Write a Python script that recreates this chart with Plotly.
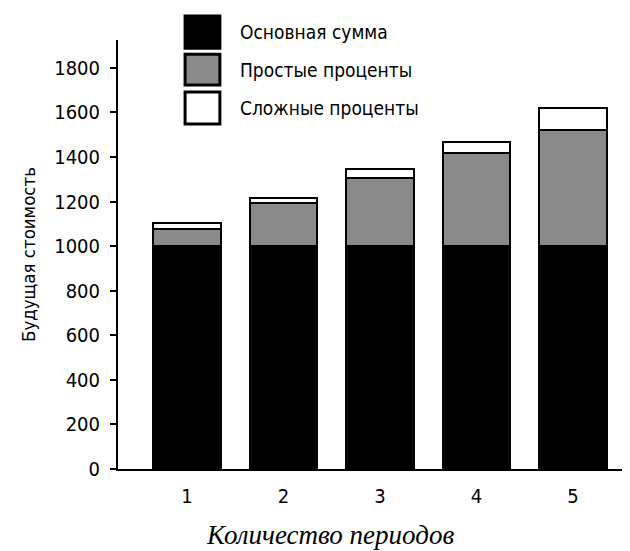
import plotly.graph_objects as go

periods = [1, 2, 3, 4, 5]
tick_labels = ["1", "2", "3", "4", "5"]
principal = [1000, 1000, 1000, 1000, 1000]
simple_interest = [75, 195, 305, 420, 520]
compound_interest = [30, 20, 40, 48, 100]
series_names = ["Основная сумма", "Простые проценты", "Сложные проценты"]
series_colors = ["#000000", "#8a8a8a", "#ffffff"]
y_ticks = [0, 200, 400, 600, 800, 1000, 1200, 1400, 1600, 1800]

SANS = "DejaVu Sans Condensed, Liberation Sans Narrow, Liberation Sans, Arial, sans-serif"
SERIF = "Liberation Serif, Times New Roman, serif"

fig = go.Figure()
for name, vals, col in zip(series_names, [principal, simple_interest, compound_interest], series_colors):
    fig.add_trace(go.Bar(
        x=periods, y=vals, name=name,
        marker=dict(color=col, line=dict(color="#000000", width=2)),
        showlegend=False,
    ))

# custom legend (large swatches like the reference)
legend_boxes = [(1.056, 0.981), (0.967, 0.895), (0.879, 0.804)]
for (y1, y0), col, name in zip(legend_boxes, series_colors, series_names):
    fig.add_shape(type="rect", xref="paper", yref="paper",
                  x0=0.131, x1=0.199, y0=y0, y1=y1,
                  fillcolor=col, line=dict(color="#000000", width=3))
    fig.add_annotation(xref="paper", yref="paper", x=0.234, y=(y0 + y1) / 2,
                       text=name, showarrow=False, xanchor="left", yanchor="middle",
                       font=dict(family=SANS, size=19, color="#000000"))

# x-axis title (placed as in the reference, slightly left of plot centre)
fig.add_annotation(xref="paper", yref="paper", x=0.414, y=-0.155,
                   text="Количество периодов", showarrow=False,
                   xanchor="center", yanchor="middle",
                   font=dict(family=SERIF, size=27, color="#000000", style="italic"))

fig.update_layout(
    barmode="stack",
    bargap=0.3,
    width=622, height=543,
    margin=dict(l=110, r=0, t=32, b=82),
    paper_bgcolor="#ffffff",
    plot_bgcolor="#ffffff",
    font=dict(family=SANS, color="#000000"),
    xaxis=dict(
        range=[0.285, 5.59],
        tickmode="array", tickvals=periods, ticktext=tick_labels,
        ticks="", showgrid=False, zeroline=False,
        showline=True, linecolor="#000000", linewidth=2,
        tickfont=dict(family=SANS, size=20, color="#000000"),
        ticklabelstandoff=8,
    ),
    yaxis=dict(
        range=[0, 1925],
        tickmode="array", tickvals=y_ticks,
        ticks="outside", ticklen=6, tickwidth=2, tickcolor="#000000",
        showgrid=False, zeroline=False,
        showline=True, linecolor="#000000", linewidth=2,
        tickfont=dict(family=SANS, size=20, color="#000000"),
        ticklabelstandoff=6,
        title=dict(text="Будущая стоимость",
                   font=dict(family=SANS, size=18.5, color="#000000"),
                   standoff=14),
    ),
)

fig.write_html("out.html")
